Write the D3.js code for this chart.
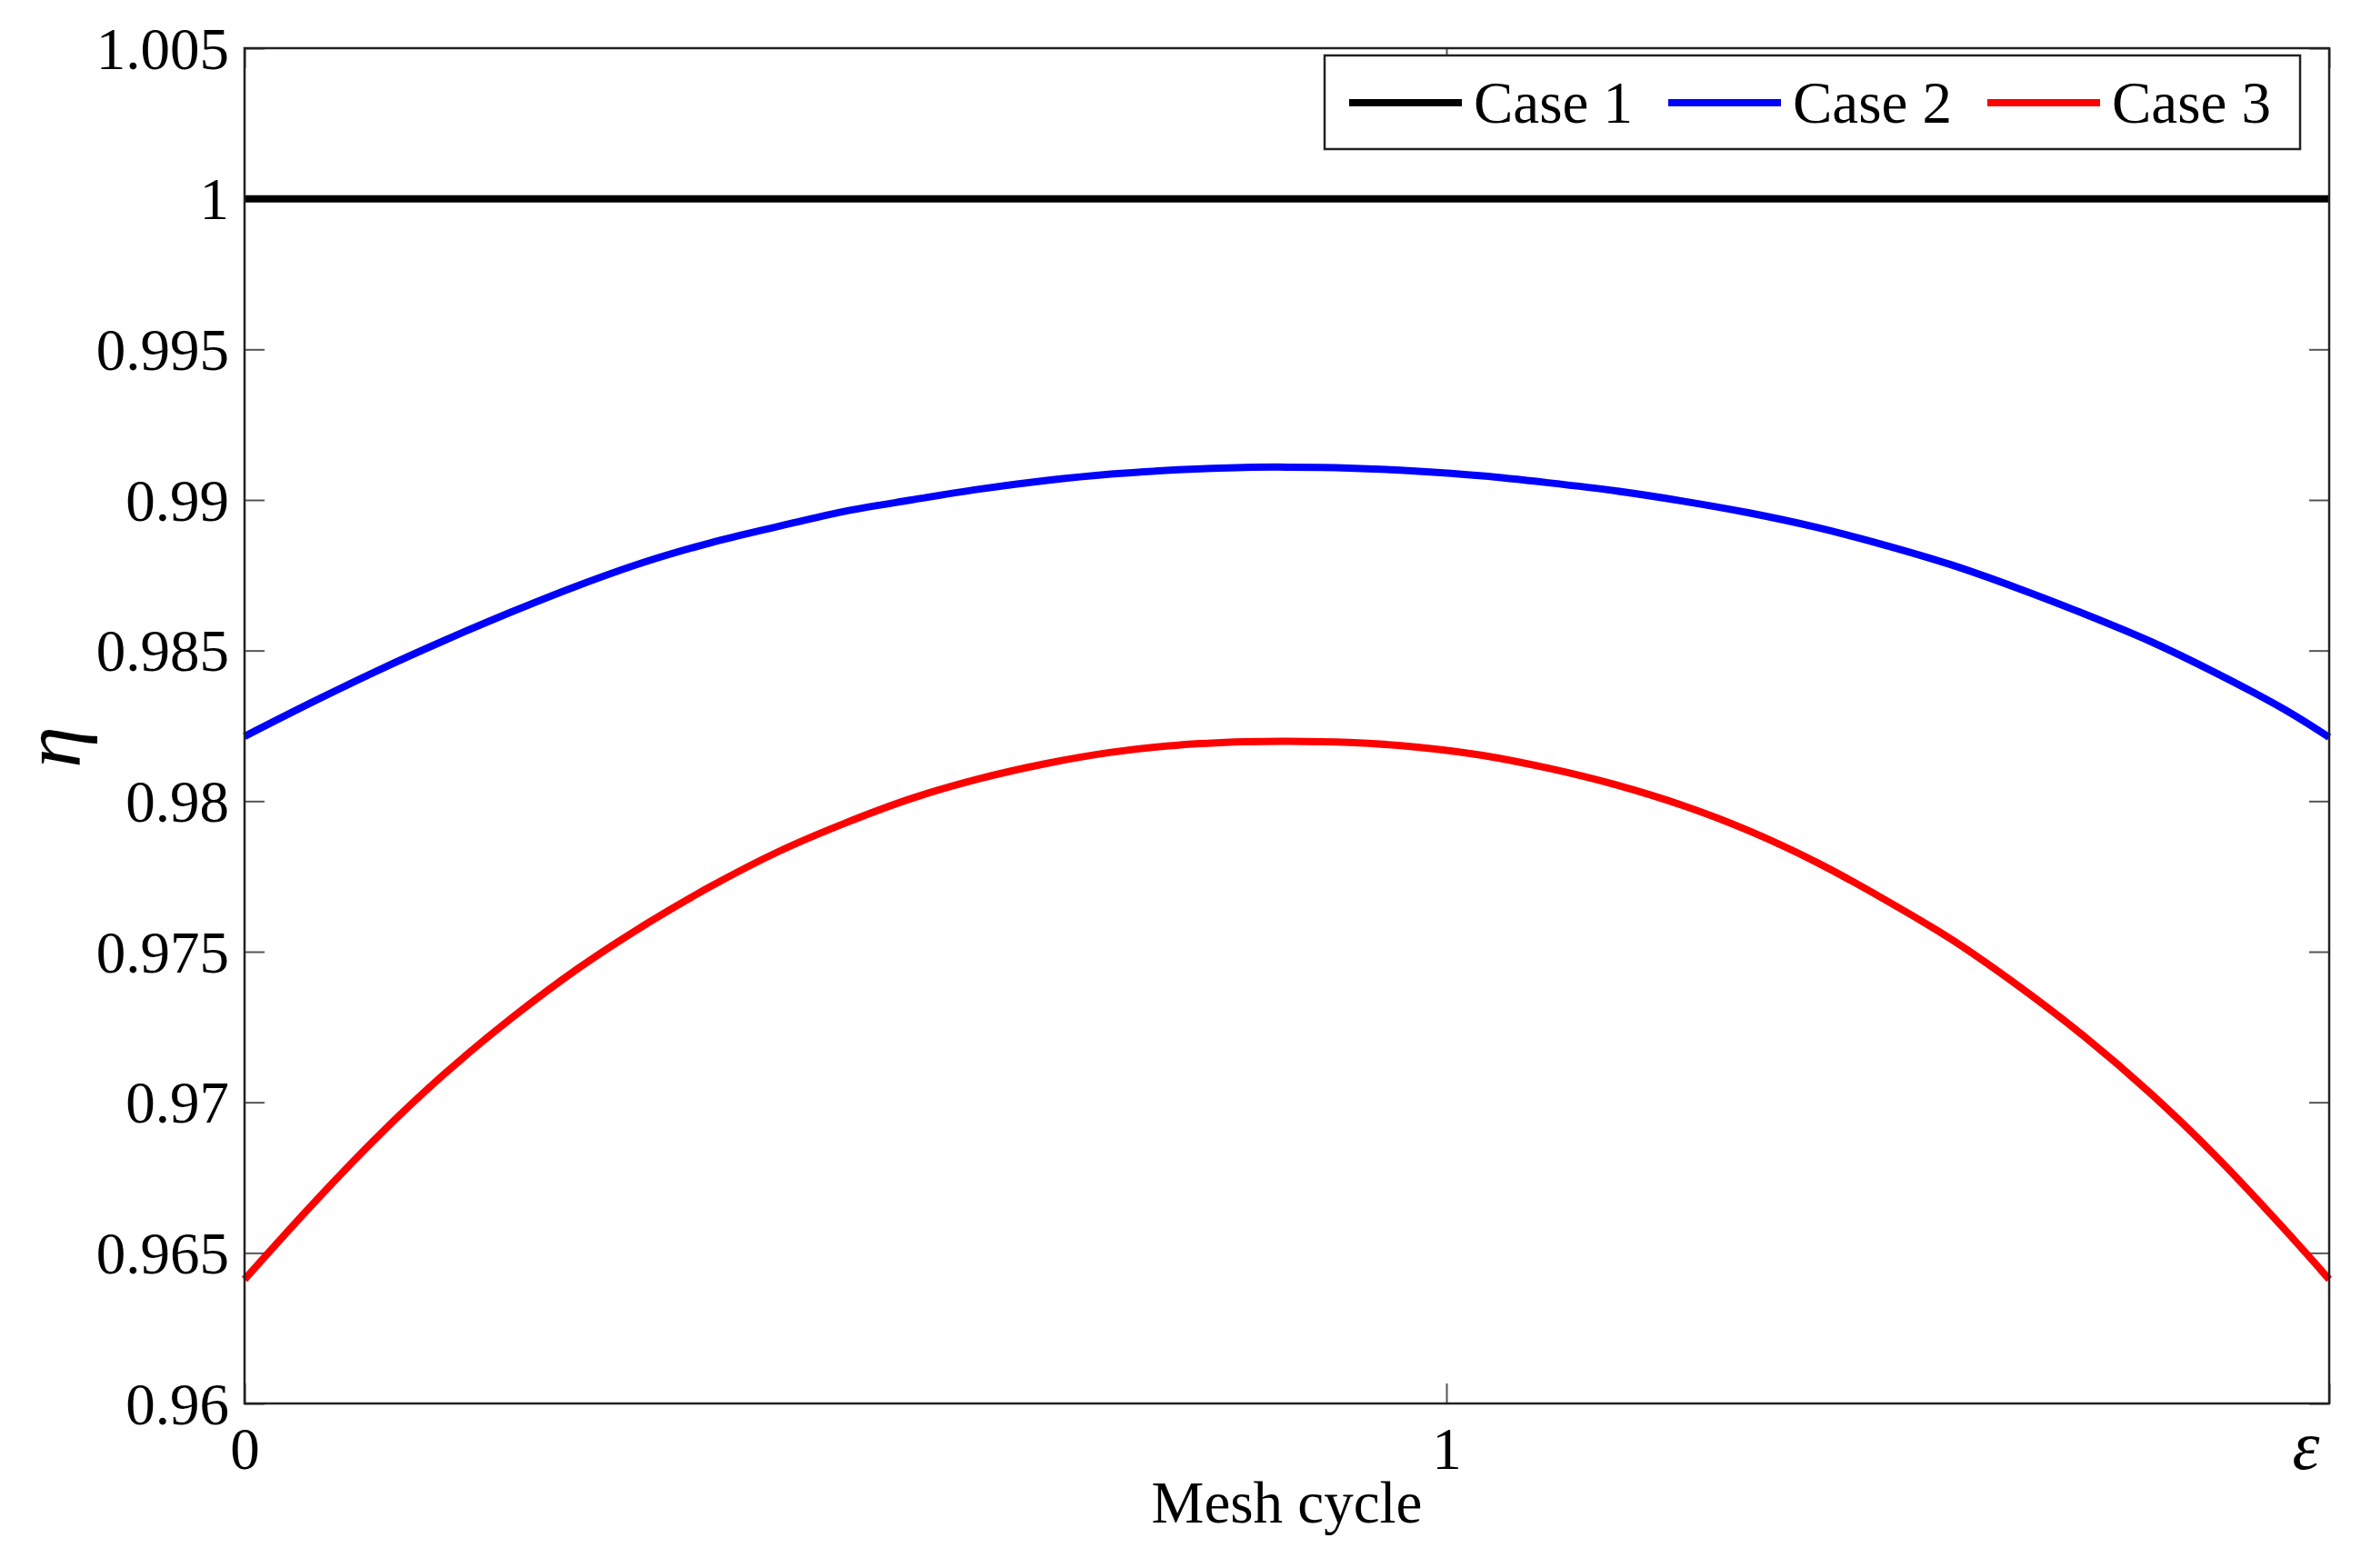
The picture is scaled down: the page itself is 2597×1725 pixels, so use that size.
<!DOCTYPE html>
<html>
<head>
<meta charset="utf-8">
<script src="https://cdn.jsdelivr.net/npm/d3@7"></script>
<style>
  html, body { margin: 0; padding: 0; background: #fff; }
  svg text { font-family: "Liberation Serif", "Times New Roman", serif; fill: #000; }
</style>
</head>
<body>
<svg id="chart" width="2597" height="1725"></svg>
<script>
// data
const EPS = 1.7345; // contact ratio, right end of the mesh cycle
const xTicks = [0, 1, EPS];
const xTickLabels = ['0', '1', '\u03b5'];
const yTicks = [0.96, 0.965, 0.97, 0.975, 0.98, 0.985, 0.99, 0.995, 1, 1.005];
const yTickLabels = ['0.96', '0.965', '0.97', '0.975', '0.98', '0.985', '0.99', '0.995', '1', '1.005'];

const case1X = [0, EPS];
const case1Y = [1, 1];

const curveX = [0, 0.056, 0.111, 0.166, 0.222, 0.277, 0.333, 0.388, 0.444, 0.499, 0.555,
  0.610, 0.666, 0.721, 0.777, 0.832, 0.867, 0.919, 0.974, 1.030, 1.085, 1.141, 1.197,
  1.252, 1.308, 1.363, 1.419, 1.474, 1.530, 1.586, 1.641, 1.697, EPS];
const case2Y = [0.98215, 0.98328, 0.98434, 0.98533, 0.98628, 0.98715, 0.98794, 0.98858,
  0.98912, 0.98962, 0.99000, 0.99035, 0.99064, 0.99086, 0.99100, 0.99108, 0.99109,
  0.99106, 0.99096, 0.99080, 0.99057, 0.99030, 0.98996, 0.98957, 0.98909, 0.98852,
  0.98786, 0.98709, 0.98623, 0.98530, 0.98424, 0.98305, 0.98212];
const case3Y = [0.96412, 0.96659, 0.96887, 0.97093, 0.97279, 0.97443, 0.97589, 0.97717,
  0.97832, 0.97926, 0.98009, 0.98073, 0.98124, 0.98162, 0.98186, 0.98197, 0.98199,
  0.98195, 0.98180, 0.98152, 0.98109, 0.98054, 0.97985, 0.97901, 0.97797, 0.97677,
  0.97544, 0.97392, 0.97221, 0.97029, 0.96818, 0.96580, 0.96412];

const seriesNames = ['Case 1', 'Case 2', 'Case 3'];
const seriesColors = ['#000000', '#0000ff', '#ff0000'];

// layout
const svg = d3.select('#chart');
const margin = { top: 53, right: 35, bottom: 181, left: 269 };
const W = 2597 - margin.left - margin.right;
const H = 1725 - margin.top - margin.bottom;
const g = svg.append('g').attr('transform', `translate(${margin.left},${margin.top})`);

const x = d3.scaleLinear().domain([0, EPS]).range([0, W]);
const y = d3.scaleLinear().domain([0.96, 1.005]).range([H, 0]);

const TICK = 22;
const FONT = 65;

// axes (ticks inward, mirrored on top/right like matlab)
const fmtY = d => yTickLabels[yTicks.indexOf(d)];
const fmtX = d => xTickLabels[xTicks.indexOf(d)];

const yAxisL = g.append('g')
  .call(d3.axisLeft(y).tickValues(yTicks).tickFormat(fmtY).tickSize(-TICK).tickPadding(17));
const yAxisR = g.append('g').attr('transform', `translate(${W},0)`)
  .call(d3.axisRight(y).tickValues(yTicks).tickFormat('').tickSize(-TICK));
const xAxisB = g.append('g').attr('transform', `translate(0,${H})`)
  .call(d3.axisBottom(x).tickValues(xTicks).tickFormat(fmtX).tickSize(-TICK).tickPadding(26));
const xAxisT = g.append('g')
  .call(d3.axisTop(x).tickValues(xTicks).tickFormat('').tickSize(-TICK));

[yAxisL, yAxisR, xAxisB, xAxisT].forEach(a => {
  a.select('.domain').remove();
  a.selectAll('.tick line').attr('stroke', '#555').attr('stroke-width', 2);
});
yAxisL.selectAll('.tick text')
  .style('font-size', FONT + 'px').attr('dy', '0.34em');
xAxisB.selectAll('.tick text')
  .style('font-size', FONT + 'px').attr('dy', '0.71em');
// epsilon label is italic and sits just left of the end tick
xAxisB.selectAll('.tick text')
  .filter(d => d === EPS)
  .style('font-style', 'italic').style('font-size', '76px')
  .attr('x', -26).attr('dy', '0.6em');

// lines
const line = d3.line().x(d => x(d[0])).y(d => y(d[1])).curve(d3.curveCatmullRom);
const series = [
  d3.zip(case1X, case1Y),
  d3.zip(curveX, case2Y),
  d3.zip(curveX, case3Y)
];
g.append('g').selectAll('path')
  .data(series)
  .join('path')
  .attr('d', line)
  .attr('fill', 'none')
  .attr('stroke', (d, i) => seriesColors[i])
  .attr('stroke-width', 8);

// axes box
g.append('rect')
  .attr('width', W).attr('height', H)
  .attr('fill', 'none').attr('stroke', '#222').attr('stroke-width', 2.5);

// axis labels
g.append('text')
  .attr('x', W / 2).attr('y', H + 131)
  .attr('text-anchor', 'middle')
  .style('font-size', FONT + 'px')
  .text('Mesh cycle');

svg.append('text')
  .attr('transform', 'translate(88,822) rotate(-90)')
  .attr('text-anchor', 'middle')
  .style('font-size', '92px').style('font-style', 'italic')
  .text('\u03b7');

// legend
const leg = svg.append('g').attr('transform', 'translate(1457,61)');
leg.append('rect')
  .attr('width', 1073).attr('height', 103)
  .attr('fill', '#fff').attr('stroke', '#222').attr('stroke-width', 2.5);
const item = leg.selectAll('g.item')
  .data(seriesNames)
  .join('g')
  .attr('class', 'item')
  .attr('transform', (d, i) => `translate(${27 + i * 351},52)`);
item.append('line')
  .attr('x1', 0).attr('x2', 124)
  .attr('stroke', (d, i) => seriesColors[i])
  .attr('stroke-width', 8);
item.append('text')
  .attr('x', 137).attr('y', 22)
  .style('font-size', FONT + 'px')
  .text(d => d);
</script>
</body>
</html>
